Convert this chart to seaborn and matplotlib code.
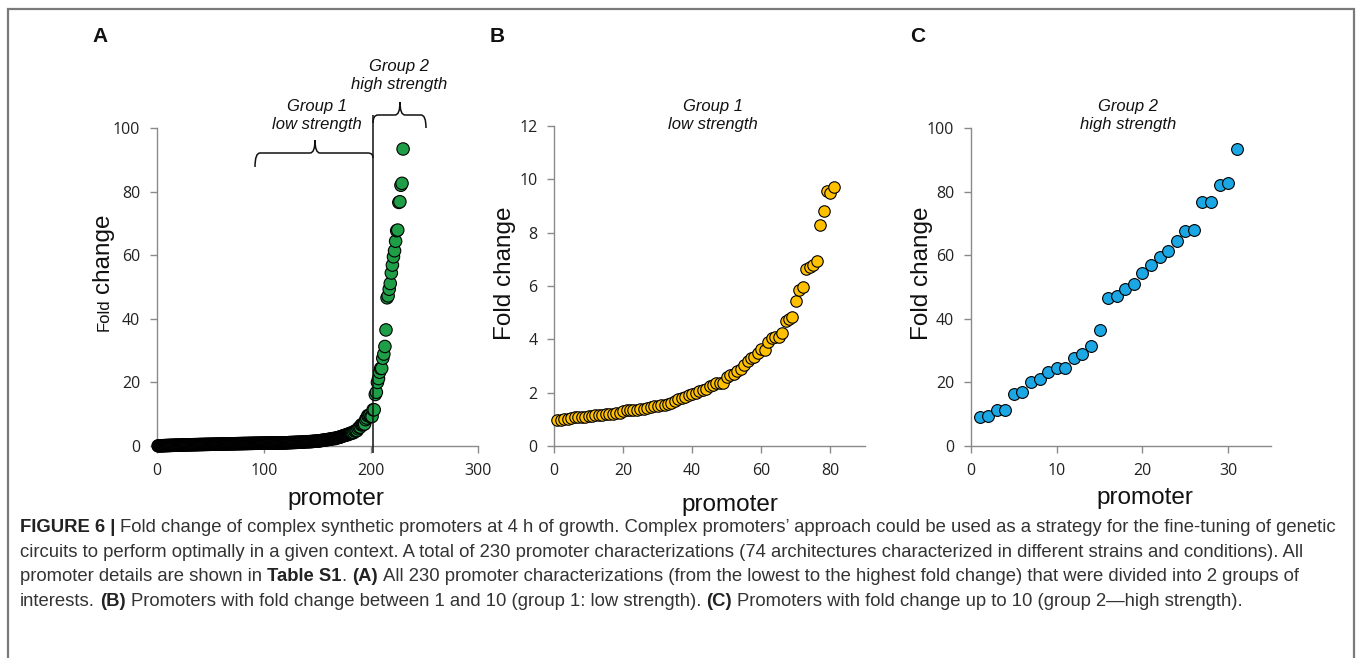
import numpy as np
import pandas as pd
import matplotlib
matplotlib.use('Agg')
import matplotlib.pyplot as plt
import seaborn as sns
from matplotlib.path import Path
from matplotlib.patches import PathPatch

W, H = 1357, 658

# fold change of the promoters below 1 (sorted, only shown in panel A)
fold_below1 = [0.04, 0.05, 0.07, 0.08, 0.08, 0.10, 0.11, 0.13, 0.14, 0.15,
               0.17, 0.18, 0.19, 0.21, 0.22, 0.22, 0.24, 0.25, 0.26, 0.27,
               0.28, 0.30, 0.31, 0.31, 0.32, 0.33, 0.35, 0.36, 0.36, 0.37,
               0.38, 0.39, 0.40, 0.41, 0.42, 0.42, 0.43, 0.44, 0.45, 0.46,
               0.47, 0.47, 0.48, 0.49, 0.50, 0.51, 0.52, 0.52, 0.53, 0.54,
               0.55, 0.55, 0.56, 0.57, 0.58, 0.59, 0.60, 0.60, 0.61, 0.62,
               0.63, 0.63, 0.64, 0.65, 0.66, 0.66, 0.67, 0.68, 0.69, 0.69,
               0.70, 0.71, 0.72, 0.72, 0.73, 0.74, 0.75, 0.75, 0.76, 0.77,
               0.78, 0.78, 0.79, 0.80, 0.80, 0.81, 0.82, 0.83, 0.83, 0.84,
               0.85, 0.85, 0.86, 0.87, 0.87, 0.88, 0.89, 0.89, 0.90, 0.91,
               0.91, 0.92, 0.92, 0.93, 0.93, 0.94, 0.94, 0.95, 0.95, 0.95,
               0.96, 0.96, 0.96, 0.97, 0.97, 0.97, 0.97, 0.98]

# group 1: low strength (fold change 1-10)
fold_group1 = [0.97, 0.97, 1.00, 1.02, 1.05, 1.08, 1.08, 1.08, 1.10, 1.12,
               1.13, 1.15, 1.15, 1.18, 1.20, 1.20, 1.20, 1.22, 1.25, 1.30,
               1.35, 1.35, 1.35, 1.35, 1.38, 1.40, 1.42, 1.45, 1.50, 1.50,
               1.52, 1.55, 1.58, 1.62, 1.70, 1.75, 1.80, 1.85, 1.90, 1.95,
               2.00, 2.05, 2.10, 2.15, 2.25, 2.30, 2.35, 2.35, 2.38, 2.60,
               2.65, 2.70, 2.80, 2.90, 3.05, 3.20, 3.30, 3.35, 3.50, 3.65,
               3.60, 3.90, 4.05, 4.10, 4.10, 4.25, 4.70, 4.75, 4.85, 5.42,
               5.85, 5.95, 6.65, 6.72, 6.80, 6.92, 8.30, 8.80, 9.55, 9.50,
               9.72]

# group 2: high strength (fold change > 10)
fold_group2 = [9.2, 9.3, 11.4, 11.4, 16.2, 16.9, 20.0, 21.2, 23.2, 24.4,
               24.4, 27.6, 28.9, 31.3, 36.5, 46.6, 47.2, 49.3, 51.1, 54.4,
               56.9, 59.5, 61.4, 64.4, 67.7, 67.9, 76.6, 76.8, 82.0, 82.6,
               93.4]

green_from = 182  # promoters drawn green in panel A

fold_all = fold_below1 + fold_group1 + fold_group2
dfA = pd.DataFrame({'promoter': np.arange(1, len(fold_all) + 1), 'fold': fold_all})
dfA['shade'] = np.where(dfA['promoter'] >= green_from, 'green', 'black')
dfB = pd.DataFrame({'promoter': np.arange(1, len(fold_group1) + 1), 'fold': fold_group1})
dfC = pd.DataFrame({'promoter': np.arange(1, len(fold_group2) + 1), 'fold': fold_group2})

sns.set_theme(style='white')
plt.rcParams['font.family'] = ['Liberation Sans', 'DejaVu Sans']

fig = plt.figure(figsize=(W / 100, H / 100), dpi=100)


def fxy(px, py):
    return px / W, 1 - py / H


def make_ax(left, right, top, bottom):
    x0, y0 = fxy(left, bottom)
    x1, y1 = fxy(right, top)
    ax = fig.add_axes([x0, y0, x1 - x0, y1 - y0])
    ax.set_facecolor('none')
    sns.despine(ax=ax)
    for s in ['left', 'bottom']:
        ax.spines[s].set_color('#8a8a8a')
        ax.spines[s].set_linewidth(1.0)
    ax.tick_params(axis='both', direction='out', length=5, width=1, color='#8a8a8a',
                   labelsize=11.5, labelcolor='#222222', pad=7, left=True, bottom=True)
    return ax


GREEN = '#1f9e48'
GOLD = '#ffc000'
BLUE = '#1aa7e4'

# panel A
axA = make_ax(157, 478, 128, 446)
sns.scatterplot(data=dfA, x='promoter', y='fold', hue='shade',
                palette={'black': '#111111', 'green': GREEN}, edgecolor='black',
                linewidth=0.8, s=80, legend=False, clip_on=False, zorder=3, ax=axA)
axA.set_xlim(0, 300)
axA.set_ylim(0, 100)
axA.set_xticks([0, 100, 200, 300])
axA.set_yticks([0, 20, 40, 60, 80, 100])

# panel B
axB = make_ax(554, 865, 126, 446)
sns.scatterplot(data=dfB, x='promoter', y='fold', color=GOLD, edgecolor='black',
                linewidth=0.8, s=68, clip_on=False, zorder=3, ax=axB)
axB.set_xlim(0, 90)
axB.set_ylim(0, 12)
axB.set_xticks([0, 20, 40, 60, 80])
axB.set_yticks([0, 2, 4, 6, 8, 10, 12])

# panel C
axC = make_ax(971, 1271, 128, 446)
sns.scatterplot(data=dfC, x='promoter', y='fold', color=BLUE, edgecolor='black',
                linewidth=0.8, s=72, clip_on=False, zorder=3, ax=axC)
axC.set_xlim(0, 35)
axC.set_ylim(0, 100)
axC.set_xticks([0, 10, 20, 30])
axC.set_yticks([0, 20, 40, 60, 80, 100])

for ax in (axA, axB, axC):
    ax.set_xlabel('')
    ax.set_ylabel('')
    for lab in ax.get_xticklabels() + ax.get_yticklabels():
        lab.set_family('Open Sans')
        lab.set_fontsize(11.5)
        lab.set_color('#222222')

# axis labels placed in pixels
for px, py in [(336, 499), (730, 505), (1145, 498)]:
    x, y = fxy(px, py)
    fig.text(x, y, 'promoter', fontsize=17.5, ha='center', va='center', color='#111111')
for px in (505, 922):
    x, y = fxy(px, 273)
    fig.text(x, y, 'Fold change', fontsize=17.5, rotation=90, ha='center', va='center',
             color='#111111')
x, y = fxy(109, 331)
fig.text(x, y, 'Fold', fontsize=12, rotation=90, rotation_mode='anchor',
         ha='left', va='baseline', color='#111111')
x, y = fxy(109, 293)
fig.text(x, y, 'change', fontsize=17.5, rotation=90, rotation_mode='anchor',
         ha='left', va='baseline', color='#111111')

# panel letters
for letter, px in [('A', 92), ('B', 490), ('C', 910)]:
    x, y = fxy(px, 42)
    fig.text(x, y, letter, fontsize=15, fontweight='bold', ha='left', va='baseline',
             color='#111111')

# group annotations
for px, py, txt in [(317, 115, 'Group 1\nlow strength'), (399, 75, 'Group 2\nhigh strength'),
                    (713, 115, 'Group 1\nlow strength'), (1128, 115, 'Group 2\nhigh strength')]:
    x, y = fxy(px, py)
    fig.text(x, y, txt, fontsize=12, style='italic', ha='center', va='center',
             linespacing=1.25, color='#111111')


# braces and divider in panel A (figure pixel coordinates)
def pix_path(verts, codes, color='#111111', lw=1.1):
    v = [fxy(a, b) for a, b in verts]
    return PathPatch(Path(v, codes), transform=fig.transFigure, fill=False,
                     edgecolor=color, linewidth=lw)


C3 = Path.CURVE3
L = Path.LINETO
M = Path.MOVETO
r = 5
brace_codes = [M, C3, C3, L, C3, C3, C3, C3, L, C3, C3]
# brace 1: left end 255, right end at divider 373, level y=153, tip at 315,138
b1 = [(255, 167), (255, 153), (255 + r, 153), (315 - r, 153), (315, 153), (315, 140),
      (315, 153), (315 + r, 153), (373 - r, 153), (373, 153), (373, 158)]
fig.add_artist(pix_path(b1, brace_codes))
# brace 2: from divider top 373,115 to 426,128, tip at 400,100
b2 = [(373, 123), (373, 115), (373 + r, 115), (400 - r, 115), (400, 115), (400, 102),
      (400, 115), (400 + r, 115), (426 - r, 115), (426, 115), (426, 128)]
fig.add_artist(pix_path(b2, brace_codes))
fig.add_artist(pix_path([(373, 115), (373, 453)], [M, L]))

# frame around the figure
fig.add_artist(pix_path([(8, 670), (8, 9), (1354, 9), (1354, 670)], [M, L, L, L],
                        color='#7a7a7a', lw=1.6))

# caption with mixed weights
renderer = fig.canvas.get_renderer()
CAP = 13.3


def text_w(s, bold=False):
    t = fig.text(0, 0, s, fontsize=CAP, fontweight='bold' if bold else 'normal')
    w = t.get_window_extent(renderer).width
    t.remove()
    return w


space_w = text_w('a a') - text_w('aa')

caption = [
    [('FIGURE 6 |', True), (' Fold change of complex synthetic promoters at 4 h of growth. Complex promoters\u2019 approach could be used as a strategy for the fine-tuning of genetic', False)],
    [('circuits to perform optimally in a given context. A total of 230 promoter characterizations (74 architectures characterized in different strains and conditions). All', False)],
    [('promoter details are shown in', False), (' Table S1', True), ('.', False), (' (A)', True),
     (' All 230 promoter characterizations (from the lowest to the highest fold change) that were divided into 2 groups of', False)],
    [('interests.', False), (' (B)', True), (' Promoters with fold change between 1 and 10 (group 1: low strength).', False),
     (' (C)', True), (' Promoters with fold change up to 10 (group 2\u2014high strength).', False)],
]
for i, runs in enumerate(caption):
    xp = 20
    yp = 532 + i * 24.7
    for s, bold in runs:
        if s.startswith(' '):
            xp += space_w
        core = s.strip()
        x, y = fxy(xp, yp)
        t = fig.text(x, y, core, fontsize=CAP, fontweight='bold' if bold else 'normal',
                     ha='left', va='baseline', color='#222222' if bold else '#333333')
        xp += t.get_window_extent(renderer).width

fig.savefig('out.png', dpi=100)
